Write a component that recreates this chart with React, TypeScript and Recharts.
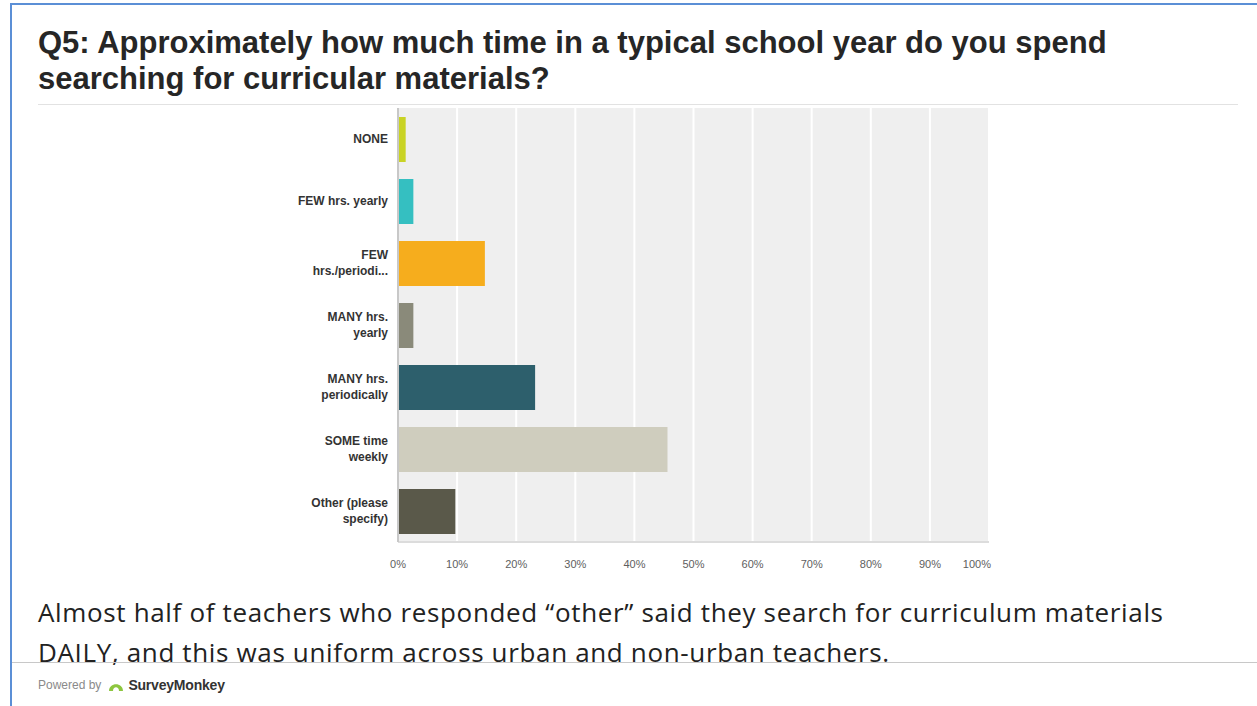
import React from 'react';
import { BarChart, Bar, XAxis, YAxis, CartesianGrid, Cell } from 'recharts';

const categories = [
  'NONE',
  'FEW hrs. yearly',
  'FEW\nhrs./periodi...',
  'MANY hrs.\nyearly',
  'MANY hrs.\nperiodically',
  'SOME time\nweekly',
  'Other (please\nspecify)',
];
const percents = [1.3, 2.6, 14.7, 2.6, 23.2, 45.6, 9.7];
const barColors = ['#c9d325', '#35bfc1', '#f6ad1d', '#8a8a7a', '#2d5f6c', '#cfcdbe', '#5a594a'];
const xTicks = [0, 10, 20, 30, 40, 50, 60, 70, 80, 90, 100];

const chartData = categories.map((c, i) => ({ label: c, value: percents[i] }));

const CategoryTick = (props: any) => {
  const { x, y, payload } = props;
  const lines: string[] = String(payload.value).split('\n');
  const start = -((lines.length - 1) * 16) / 2 + 4;
  return (
    <text
      x={x - 2}
      y={y}
      textAnchor="end"
      fill="#333"
      fontSize={12}
      fontWeight="bold"
      fontFamily="'Liberation Sans', Arial, sans-serif"
    >
      {lines.map((l, i) => (
        <tspan key={i} x={x - 2} dy={i === 0 ? start : 16}>
          {l}
        </tspan>
      ))}
    </text>
  );
};

const PercentTick = (props: any) => {
  const { x, y, payload } = props;
  const last = payload.value === 100;
  return (
    <text
      x={last ? x + 2 : x}
      y={y + 18}
      textAnchor={last ? 'end' : 'middle'}
      fill="#5e5e5e"
      fontSize={11}
      fontFamily="'Liberation Sans', Arial, sans-serif"
    >
      {payload.value}%
    </text>
  );
};

export default function App() {
  return (
    <div
      style={{
        position: 'absolute',
        left: 0,
        top: 0,
        width: 1257,
        height: 706,
        background: '#fff',
        overflow: 'hidden',
      }}
    >
      {/* frame */}
      <div style={{ position: 'absolute', left: 10, top: 3, width: 1247, height: 2, background: '#5b8fd6' }} />
      <div style={{ position: 'absolute', left: 10, top: 3, width: 2, height: 703, background: '#5b8fd6' }} />

      <div
        style={{
          position: 'absolute',
          left: 38,
          top: 25,
          fontFamily: "'Liberation Sans', Arial, sans-serif",
          fontWeight: 'bold',
          fontSize: 31,
          lineHeight: '36px',
          color: '#262626',
          whiteSpace: 'nowrap',
        }}
      >
        Q5: Approximately how much time in a typical school year do you spend
        <br />
        searching for curricular materials?
      </div>
      <div style={{ position: 'absolute', left: 38, top: 104, width: 1200, height: 1, background: '#e2e2e2' }} />

      <div style={{ position: 'absolute', left: 0, top: 0 }}>
        <BarChart
          width={1257}
          height={600}
          data={chartData}
          layout="vertical"
          margin={{ top: 108, right: 268, bottom: 28, left: 278 }}
          barCategoryGap={17}
        >
          <CartesianGrid
            horizontal={false}
            fill="#efefef"
            stroke="#ffffff"
            strokeWidth={2}
          />
          <XAxis
            type="number"
            domain={[0, 100]}
            ticks={xTicks}
            interval={0}
            axisLine={{ stroke: '#dcdcdc', strokeWidth: 2 }}
            tickLine={false}
            tick={<PercentTick />}
            height={30}
          />
          <YAxis
            type="category"
            dataKey="label"
            width={120}
            axisLine={{ stroke: '#c8c8c8', strokeWidth: 2 }}
            tickLine={false}
            interval={0}
            tick={<CategoryTick />}
          />
          <Bar dataKey="value" barSize={45} isAnimationActive={false}>
            {chartData.map((d, i) => (
              <Cell key={d.label} fill={barColors[i]} />
            ))}
          </Bar>
        </BarChart>
      </div>

      <div
        style={{
          position: 'absolute',
          left: 38,
          top: 592,
          fontFamily: "'Open Sans', Lato, sans-serif",
          fontSize: 26,
          lineHeight: '40px',
          letterSpacing: 0.65,
          color: '#222',
          whiteSpace: 'nowrap',
        }}
      >
        Almost half of teachers who responded “other” said they search for curriculum materials
        <br />
        DAILY, and this was uniform across urban and non-urban teachers.
      </div>
      <div style={{ position: 'absolute', left: 12, top: 662, width: 1245, height: 1, background: '#c8c8c8' }} />

      <div
        style={{
          position: 'absolute',
          left: 38,
          top: 677,
          display: 'flex',
          alignItems: 'center',
          fontFamily: "'Liberation Sans', Arial, sans-serif",
          whiteSpace: 'nowrap',
        }}
      >
        <span style={{ fontSize: 12, color: '#8a8a8a', marginRight: 6 }}>Powered by</span>
        <svg width={18} height={14} viewBox="0 0 18 14" style={{ marginRight: 3 }}>
          <path d="M2 13 C2 4, 16 4, 16 13 L12 13 C12 8, 6 8, 6 13 Z" fill="#8dc63f" />
        </svg>
        <span style={{ fontSize: 14, color: '#333', fontWeight: 'bold', letterSpacing: -0.2 }}>SurveyMonkey</span>
      </div>
    </div>
  );
}
